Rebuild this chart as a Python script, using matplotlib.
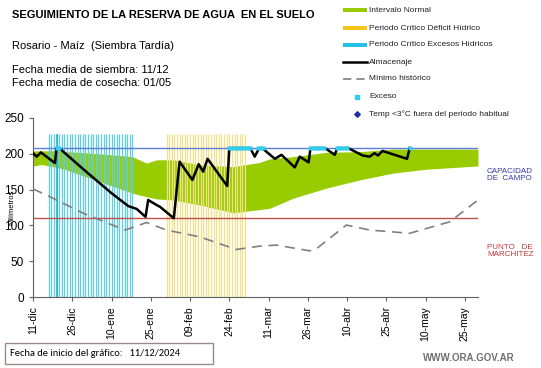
import matplotlib
matplotlib.use("Agg")
import matplotlib.pyplot as plt
from matplotlib.lines import Line2D
from matplotlib.patches import Rectangle
import numpy as np

plt.rcParams['font.family'] = ['Liberation Sans', 'DejaVu Sans']

# ---- data (days since 11-dic-2024) ----
tick_days = [0, 15, 30, 45, 60, 75, 90, 105, 120, 135, 150, 165]
tick_labels = ['11-dic', '26-dic', '10-ene', '25-ene', '09-feb', '24-feb',
               '11-mar', '26-mar', '10-abr', '25-abr', '10-may', '25-may']

alm_days = [0, 1.4, 3, 8.4, 9, 10.3, 20, 30, 36.4, 39.6, 43, 44, 47.2, 48.5, 53.8,
            56, 60.9, 63.3, 65, 66.7, 74.2, 75, 83, 84.7, 86.4, 87.5, 88.5, 92.4,
            94.9, 100, 101.9, 105.3, 106, 111.5, 115.3, 116.2, 120.4, 122, 126,
            128.6, 130.5, 131.8, 133.5, 142.9, 143.9]
alm_vals = [201, 196, 202, 187, 208, 207, 176, 145, 127, 123, 112, 135.5, 128.5, 126, 110,
            189, 163.5, 185.5, 175, 193, 155, 208, 208, 196, 208, 208, 205, 193,
            198.6, 181, 196, 188, 208, 208, 198.6, 208, 208, 205, 197.6,
            196, 201, 197.6, 204, 193, 208]

band_days = [0, 3.4, 9, 12.8, 25.6, 38, 43.4, 47.2, 53.6, 63.7, 76.4, 86.6, 90.5,
             99.4, 112, 124.8, 137.5, 150.3, 170]
band_upper = [204, 204, 204.6, 203, 200, 196, 187, 191.6, 191.6, 184.6, 182, 188, 193,
              196, 202, 203, 206.5, 206.5, 206.5]
band_lower = [183, 185, 181, 177.5, 161, 145, 140, 137, 135.5, 128.5, 117.7, 122, 124,
              138, 152, 163.5, 173, 178.5, 183]

min_days = [0, 6.5, 19.2, 35.1, 43.4, 51, 63.7, 77.7, 86.6, 93, 105.7, 108, 119.7,
            128.6, 143.9, 159.2, 170]
min_vals = [151, 140, 117, 93.5, 104, 93.5, 84, 66.4, 71, 72.5, 64.5, 66.5, 100.5,
            93.5, 89, 105, 135.5]

exceso_days = [9, 10, 75, 76, 77, 78, 79, 80, 81, 82, 83, 86, 87, 88,
               106, 107, 108, 109, 110, 111, 116, 117, 118, 119, 120, 144]
exceso_vals = [208] * len(exceso_days)

excess_period = (6, 38)      # Periodo critico excesos hidricos (days)
deficit_period = (51, 81)    # Periodo critico deficit hidrico (days)
period_height = 228
dark_excess_day = 9

capacidad = 208
marchitez = 111

# ---- figure ----
W, H = 541, 368
fig = plt.figure(figsize=(W / 100, H / 100), dpi=100)
ax = fig.add_axes([33 / W, 1 - 297 / H, (478 - 33) / W, (297 - 118) / H])

green = '#99cc00'
cyan = '#5fcde4'
yellow = '#f2e08a'

ax.fill_between(band_days, band_lower, band_upper, color=green, lw=0, zorder=1)

ex_days = np.arange(excess_period[0], excess_period[1] + 1)
ax.vlines(ex_days, 0, period_height, color=cyan, lw=0.9, zorder=2)
ax.vlines([dark_excess_day], 0, period_height, color='#1aaed0', lw=1.1, zorder=2)
de_days = np.arange(deficit_period[0], deficit_period[1] + 1)
ax.vlines(de_days, 0, period_height, color=yellow, lw=0.9, zorder=2)

ax.axhline(capacidad, color='#5b7fd6', lw=1.0, zorder=3)
ax.axhline(marchitez, color='#c0504d', lw=1.0, zorder=3)

ax.plot(min_days, min_vals, color='#808080', lw=1.2, dashes=(6, 4), zorder=4)
ax.plot(alm_days, alm_vals, color='black', lw=1.8, zorder=5)
ax.plot(exceso_days, exceso_vals, ls='none', marker='s', ms=2.6, color='#33ccee',
        mec='none', zorder=6)

ax.set_xlim(0, 170)
ax.set_ylim(0, 250)
ax.set_yticks([0, 50, 100, 150, 200, 250])
ax.set_xticks(tick_days)
ax.set_xticklabels(tick_labels, rotation=90, fontsize=7.5)
ax.tick_params(axis='y', labelsize=8.5, length=3, color='#606060')
ax.tick_params(axis='x', length=3, color='#606060')
for s in ['top', 'right']:
    ax.spines[s].set_visible(False)
for s in ['left', 'bottom']:
    ax.spines[s].set_color('#606060')
ax.set_ylabel('Milímetros', fontsize=5.5, labelpad=-8)

# ---- header text ----
fig.text(12 / W, 1 - 15 / H, 'SEGUIMIENTO DE LA RESERVA DE AGUA  EN EL SUELO',
         fontsize=8, fontweight='bold', va='center')
fig.text(12 / W, 1 - 46 / H, 'Rosario - Maíz  (Siembra Tardía)', fontsize=8, va='center')
fig.text(12 / W, 1 - 70 / H, 'Fecha media de siembra: 11/12', fontsize=8, va='center')
fig.text(12 / W, 1 - 83 / H, 'Fecha media de cosecha: 01/05', fontsize=8, va='center')

# ---- legend (manual) ----
leg_items = [
    ('patch', green, 'Intervalo Normal', 10),
    ('patch', '#f5c518', 'Periodo Crítico Déficit Hídrico', 28),
    ('patch', '#22c0e8', 'Periodo Crítico Excesos Hídricos', 45),
    ('line', 'black', 'Almacenaje', 62),
    ('dash', '#808080', 'Mínimo histórico', 79),
    ('dot', '#33ccee', 'Exceso', 97),
    ('diamond', '#1f2fa0', 'Temp <3°C fuera del periodo habitual', 114),
]
for kind, col, label, yp in leg_items:
    yf = 1 - yp / H
    if kind == 'patch':
        fig.add_artist(Rectangle((343 / W, yf - 2.2 / H), 24 / W, 4.4 / H,
                                 color=col, transform=fig.transFigure, lw=0))
        tx = 369
    elif kind == 'line':
        fig.add_artist(Line2D([343 / W, 367 / W], [yf, yf], color=col, lw=1.8,
                              transform=fig.transFigure))
        tx = 369
    elif kind == 'dash':
        fig.add_artist(Line2D([343 / W, 367 / W], [yf, yf], color=col, lw=1.2,
                              dashes=(5, 3), transform=fig.transFigure))
        tx = 369
    elif kind == 'dot':
        fig.add_artist(Line2D([357 / W], [yf], marker='s', ms=2.2, color=col, ls='none',
                              transform=fig.transFigure))
        tx = 369
    else:
        fig.add_artist(Line2D([357 / W], [yf], marker='D', ms=2.8, color=col, ls='none',
                              transform=fig.transFigure))
        tx = 369
    fig.text(tx / W, yf, label, fontsize=6, va='center', color='#202020')

# ---- right labels ----
fig.text(487 / W, 1 - 175 / H, 'CAPACIDAD\nDE  CAMPO', fontsize=5.8, color='#3a3aa8',
         va='center', linespacing=1.1)
fig.text(487 / W, 1 - 251 / H, 'PUNTO   DE\nMARCHITEZ', fontsize=5.8, color='#c03a3a',
         va='center', linespacing=1.1)

# ---- footer ----
fig.add_artist(Rectangle((5 / W, 1 - 364 / H), 208 / W, 21 / H, fill=False,
                         ec='#9a8a8a', lw=1.0, transform=fig.transFigure))
fig.text(10 / W, 1 - 354 / H, 'Fecha de inicio del gráfico:   11/12/2024', fontsize=7.5,
         va='center', family=['Carlito', 'Liberation Sans', 'DejaVu Sans'])
fig.text(515 / W, 1 - 358 / H, 'WWW.ORA.GOV.AR', fontsize=7, color='#707070',
         ha='right', va='center', fontweight='bold')

fig.savefig('out.png', dpi=100)
